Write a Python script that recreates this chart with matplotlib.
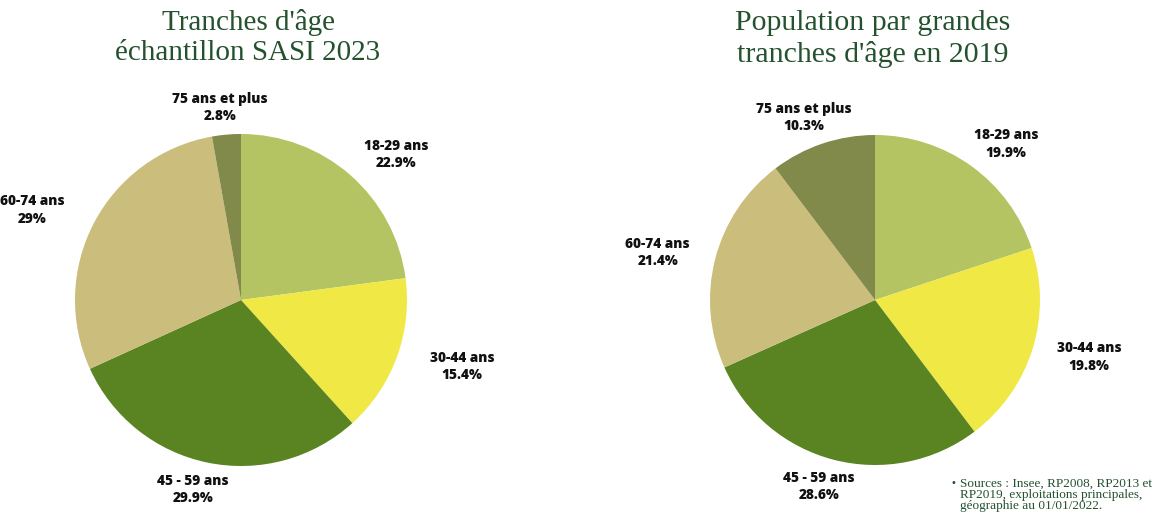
import numpy as np
import matplotlib
matplotlib.use("Agg")
import matplotlib.pyplot as plt

categories = ["18-29 ans", "30-44 ans", "45 - 59 ans", "60-74 ans", "75 ans et plus"]
sasi_2023 = [22.9, 15.4, 29.9, 29.0, 2.8]
sasi_labels = ["22.9%", "15.4%", "29.9%", "29%", "2.8%"]
pop_2019 = [19.9, 19.8, 28.6, 21.4, 10.3]
pop_labels = ["19.9%", "19.8%", "28.6%", "21.4%", "10.3%"]
colors = ["#B5C462", "#F0E844", "#5A8422", "#CBBD7B", "#818A4A"]

title_left = "Tranches d'âge\néchantillon SASI 2023"
title_right = "Population par grandes\ntranches d'âge en 2019"
source_note = "Sources : Insee, RP2008, RP2013 et\nRP2019, exploitations principales,\ngéographie au 01/01/2022."

W, H = 1161, 514
fig = plt.figure(figsize=(W / 100, H / 100), dpi=100)
fig.patch.set_facecolor("white")

title_color = "#24512E"
serif = ["Liberation Serif", "DejaVu Serif"]


def draw_pie(cx, cy, r, values, pct_labels, ax_x=1.40, ax_y=1.165):
    half = 200
    ax = fig.add_axes([(cx - half) / W, (H - cy - half) / H, 2 * half / W, 2 * half / H])
    k = half / r
    wedges, _ = ax.pie(values, colors=colors, startangle=90, counterclock=False,
                       radius=1.0, wedgeprops=dict(linewidth=0))
    ax.set_xlim(-k, k)
    ax.set_ylim(-k, k)
    ax.set_aspect("equal")
    ax.axis("off")
    for w, cat, lab in zip(wedges, categories, pct_labels):
        ang = np.deg2rad((w.theta1 + w.theta2) / 2)
        ax.text(ax_x * np.cos(ang), ax_y * np.sin(ang), f"{cat}\n{lab}", ha="center", va="center",
                fontsize=9.8, fontweight=800, family=["Open Sans", "DejaVu Sans"],
                color="#111111", linespacing=1.3, clip_on=False)
    return ax


draw_pie(241, 300, 166, sasi_2023, sasi_labels, 1.42, 1.165)
draw_pie(875, 300, 165, pop_2019, pop_labels, 1.36, 1.165)

fig.text(248 / W, 1 - 38 / H, title_left, ha="center", va="center", fontsize=21,
         family=serif, color=title_color, linespacing=1.2)
fig.text(873 / W, 1 - 39 / H, title_right, ha="center", va="center", fontsize=21.5,
         family=serif, color=title_color, linespacing=1.2)

fig.text(951 / W, 1 - 483 / H, "•", ha="left", va="center", fontsize=7, color=title_color)
fig.text(960 / W, 1 - 495 / H, source_note, ha="left", va="center", fontsize=9.5,
         family=serif, color=title_color, linespacing=0.88)

fig.savefig("out.png", dpi=100, facecolor="white")
